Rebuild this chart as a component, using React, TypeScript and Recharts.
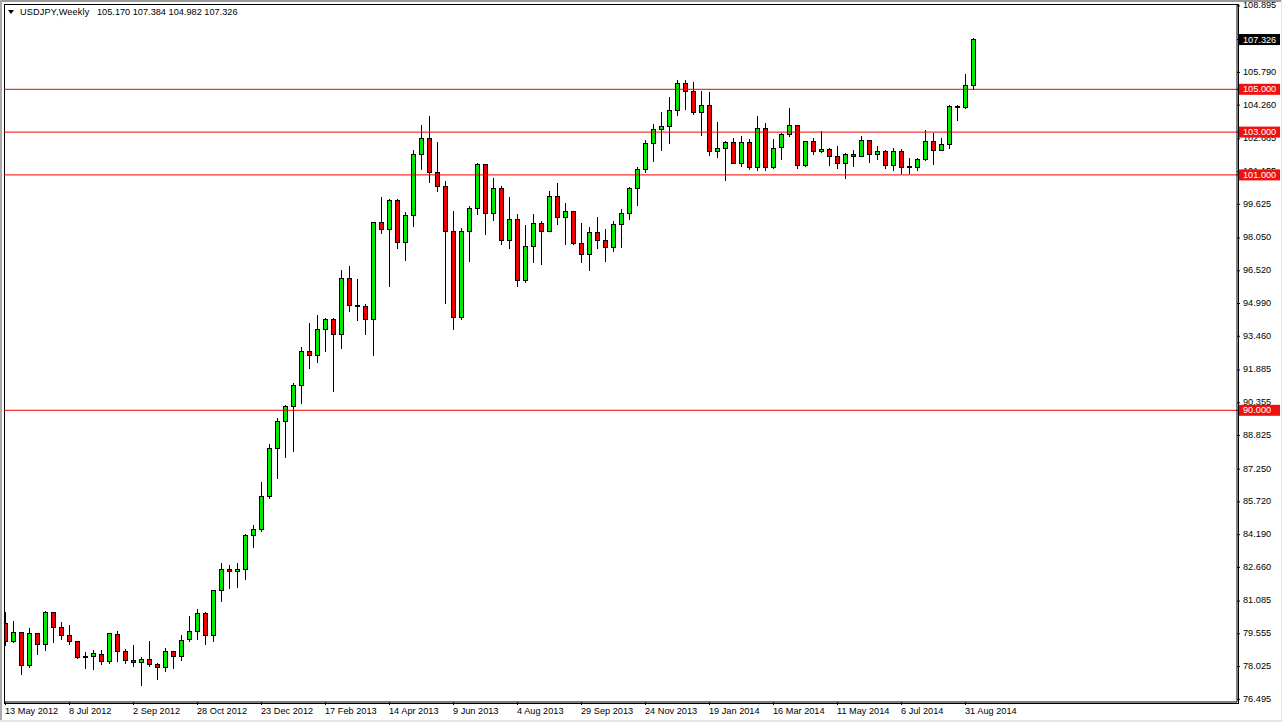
import React from 'react';
import { ComposedChart, Bar, XAxis, YAxis, ReferenceLine } from 'recharts';

const opens = [80.05,79.19,79.63,78.07,79.58,79.05,80.56,79.86,79.49,79.21,78.50,78.49,78.60,78.25,79.51,78.74,78.32,78.21,78.36,78.13,77.97,78.74,78.49,79.27,79.65,80.51,79.47,81.57,82.57,82.46,82.57,84.14,84.41,85.96,88.21,89.47,90.17,91.15,92.76,92.57,93.77,94.25,93.53,96.17,94.89,94.86,94.24,98.78,98.46,99.81,97.83,99.11,101.96,102.71,101.10,100.47,98.36,94.35,98.36,99.44,101.50,99.19,100.37,97.94,98.93,96.08,97.66,98.74,98.36,100.00,99.02,99.30,97.80,97.29,98.30,97.94,97.62,98.69,99.19,100.37,101.26,102.48,103.13,103.27,104.02,105.28,104.91,103.93,104.25,102.10,102.24,102.52,101.54,102.52,101.35,103.18,101.35,102.29,102.90,103.32,101.44,102.57,102.09,102.20,101.87,101.54,101.96,101.87,102.62,101.96,102.10,101.45,102.10,101.37,101.36,101.73,102.57,102.15,102.43,104.16,104.13,105.17];
const highs = [80.59,80.15,79.63,79.81,79.59,80.62,80.56,80.09,79.97,79.21,78.69,78.80,78.80,79.58,79.69,78.85,79.03,78.46,79.22,78.18,78.89,78.74,79.50,80.39,80.70,80.56,81.60,82.88,82.79,82.88,84.22,84.64,86.65,88.43,89.63,90.23,91.26,92.96,94.09,94.45,94.30,94.30,96.56,96.76,96.14,94.95,98.81,99.97,99.87,99.86,99.25,102.16,103.33,103.77,102.54,100.72,99.31,98.50,99.53,101.54,101.50,100.84,100.48,99.97,99.16,98.66,99.16,98.85,100.25,100.62,99.69,99.30,98.75,98.57,99.03,98.47,98.85,99.39,100.42,101.37,102.63,103.38,103.94,104.63,105.42,105.44,105.34,104.91,104.86,103.47,102.57,102.71,102.80,102.66,103.77,103.43,102.68,102.97,104.14,103.32,102.60,102.71,103.05,102.24,102.35,102.01,102.15,102.80,102.62,102.34,102.15,102.24,102.20,101.78,101.78,103.10,102.96,102.71,104.25,104.25,105.72,107.384];
const lows = [78.99,79.11,77.63,77.97,78.56,78.77,79.14,79.27,79.03,78.39,77.91,77.86,78.10,78.14,78.22,78.14,78.00,77.12,78.02,77.40,77.77,77.91,78.28,79.17,79.27,79.02,79.17,81.06,81.65,81.70,82.07,83.55,84.33,85.87,86.79,87.77,88.05,90.28,91.93,92.21,92.72,90.85,92.85,94.58,94.19,93.52,92.54,98.24,95.78,97.55,96.96,98.57,101.23,100.64,100.20,94.97,93.75,94.22,96.93,99.13,98.19,98.85,97.72,97.54,95.78,95.96,96.90,96.79,98.36,98.66,97.71,97.74,96.90,96.52,97.55,96.93,97.41,97.60,98.89,99.55,101.10,101.62,102.13,102.44,103.75,104.03,103.80,102.83,101.88,101.79,100.72,101.51,101.37,101.25,101.20,101.20,101.29,101.71,102.79,101.29,101.37,101.94,102.01,101.43,101.28,100.81,101.38,101.85,101.57,101.71,101.29,101.20,101.03,101.03,101.17,101.65,101.48,102.10,102.21,103.53,104.08,104.982];
const closes = [79.19,79.63,78.07,79.58,79.05,80.56,79.84,79.47,79.19,78.44,78.46,78.64,78.25,79.55,78.72,78.30,78.21,78.36,78.10,77.97,78.74,78.49,79.25,79.67,80.51,79.47,81.56,82.57,82.46,82.57,84.16,84.44,85.98,88.21,89.49,90.19,91.17,92.76,92.55,93.78,94.25,93.53,96.17,94.91,94.86,94.24,98.78,98.46,99.81,97.83,99.11,101.96,102.71,101.10,100.47,98.36,94.35,98.36,99.44,101.50,99.19,100.37,97.94,98.93,96.08,97.66,98.74,98.36,100.00,99.02,99.30,97.79,97.29,98.30,97.94,97.60,98.69,99.19,100.37,101.26,102.48,103.13,103.27,104.02,105.28,104.91,103.93,104.25,102.10,102.24,102.52,101.54,102.52,101.35,103.18,101.35,102.24,102.90,103.32,101.45,102.57,102.10,102.20,101.87,101.54,101.96,101.87,102.62,101.96,102.10,101.45,102.10,101.36,101.35,101.73,102.57,102.15,102.43,104.21,104.21,105.19,107.326];

const dateTicks = [0,8,16,24,32,40,48,56,64,72,80,88,96,104,112,120];
const dateLabels = ['13 May 2012','8 Jul 2012','2 Sep 2012','28 Oct 2012','23 Dec 2012','17 Feb 2013','14 Apr 2013','9 Jun 2013','4 Aug 2013','29 Sep 2013','24 Nov 2013','19 Jan 2014','16 Mar 2014','11 May 2014','6 Jul 2014','31 Aug 2014'];
const priceTicks = [76.495,78.025,79.555,81.085,82.660,84.190,85.720,87.250,88.825,90.355,91.885,93.460,94.990,96.520,98.050,99.625,101.155,102.685,104.260,105.790,108.895];
const levels = [105, 103, 101, 90];
const lastPrice = 107.326;

const rows = opens.map((o, i) => ({ i, open: o, high: highs[i], low: lows[i], close: closes[i] }));

const FONT = '"Liberation Sans", Arial, sans-serif';
const FS = 9.2;
const PLOT_LEFT = 4;

function Candle(props: any) {
  const { x, y, width, height, payload } = props;
  const cx = Math.round(x + width / 2 - 0.5) + 0.5;
  const span = payload.high - payload.low;
  const at = (v: number) => y + ((payload.high - v) / span) * height;
  const t = Math.round(at(Math.max(payload.open, payload.close)) - 0.5) + 0.5;
  const b = Math.round(at(Math.min(payload.open, payload.close)) - 0.5) + 0.5;
  const up = payload.close >= payload.open;
  const l = Math.max(cx - 2, PLOT_LEFT + 0.5);
  return (
    <g shapeRendering="crispEdges">
      <line x1={cx} x2={cx} y1={y} y2={y + height} stroke="#000" strokeWidth={1} />
      <rect x={l} y={t} width={cx + 2 - l} height={Math.max(b - t, 0)} fill={up ? '#00E800' : '#F00000'} stroke="#000" strokeWidth={1} />
    </g>
  );
}

function DateTick(props: any) {
  const { x, y, index } = props;
  return (
    <text x={x - 0.5} y={y + 7} fontFamily={FONT} fontSize={FS} fill="#000" textAnchor="start">
      {dateLabels[index]}
    </text>
  );
}

// Ticks are drawn in list order, so the boxed prices come last and cover what lies under them.
function PriceTick(props: any) {
  const { y, payload } = props;
  const v = payload.value;
  const boxed = levels.includes(v) || v === lastPrice;
  if (boxed) {
    return (
      <g>
        <rect x={1239} y={y - 5.5} width={41} height={11} fill={v === lastPrice ? '#000' : '#F01010'} />
        <text x={1243} y={y + 3} fontFamily={FONT} fontSize={FS} fill="#fff" textAnchor="start">{v.toFixed(3)}</text>
      </g>
    );
  }
  return (
    <text x={1243} y={y + 2.4} fontFamily={FONT} fontSize={FS} fill="#000" textAnchor="start">
      {v.toFixed(3)}
    </text>
  );
}

export default function App() {
  return (
    <div style={{ position: 'fixed', left: 0, top: 0, width: 1282, height: 722, background: '#fff', overflow: 'hidden' }}>
      <div style={{ position: 'absolute', left: 0, top: 0, width: 1282, height: 2, background: '#999' }} />
      <div style={{ position: 'absolute', left: 0, top: 0, width: 2, height: 722, background: '#aaa' }} />
      <div style={{ position: 'absolute', left: 0, top: 720, width: 1282, height: 2, background: '#e4e4e4' }} />
      <div style={{ position: 'absolute', left: 1281, top: 0, width: 1, height: 722, background: '#e4e4e4' }} />
      <div style={{ position: 'absolute', left: 4, top: 4, width: 1233, height: 698, border: '1px solid #000', boxSizing: 'content-box' }} />
      <div style={{ position: 'absolute', left: 8, top: 10, width: 0, height: 0, borderLeft: '3.5px solid transparent', borderRight: '3.5px solid transparent', borderTop: '4px solid #000' }} />
      <div style={{ position: 'absolute', left: 20, top: 7, fontFamily: FONT, fontSize: FS, letterSpacing: 0.15, lineHeight: '11px', color: '#000', whiteSpace: 'pre' }}>USDJPY,Weekly</div>
      <div style={{ position: 'absolute', left: 97, top: 7, fontFamily: FONT, fontSize: FS, lineHeight: '11px', color: '#000', whiteSpace: 'pre' }}>105.170 107.384 104.982 107.326</div>
      <div style={{ position: 'absolute', left: 0, top: 0 }}>
        <ComposedChart width={1282} height={722} data={rows} margin={{ top: 4, right: 0, bottom: 0, left: 4 }}>
          <XAxis
            dataKey="i"
            type="number"
            domain={[-0.1875, 153.9375]}
            allowDataOverflow
            ticks={dateTicks}
            interval={0}
            height={20}
            tickSize={3}
            stroke="#000"
            axisLine={{ stroke: '#000' }}
            tickLine={{ stroke: '#000' }}
            tick={<DateTick />}
          />
          <YAxis
            orientation="right"
            type="number"
            domain={[76.369, 108.986]}
            allowDataOverflow
            ticks={[...priceTicks, lastPrice, ...levels]}
            interval={0}
            width={45}
            tickSize={3}
            axisLine={{ stroke: '#000' }}
            tickLine={{ stroke: '#000' }}
            tick={<PriceTick />}
          />
          <Bar dataKey={(d: any) => [d.low, d.high]} barSize={5} isAnimationActive={false} shape={<Candle />} />
          {levels.map((v) => (
            <ReferenceLine key={v} y={v} stroke="#F00000" strokeWidth={1} />
          ))}
        </ComposedChart>
      </div>
    </div>
  );
}
